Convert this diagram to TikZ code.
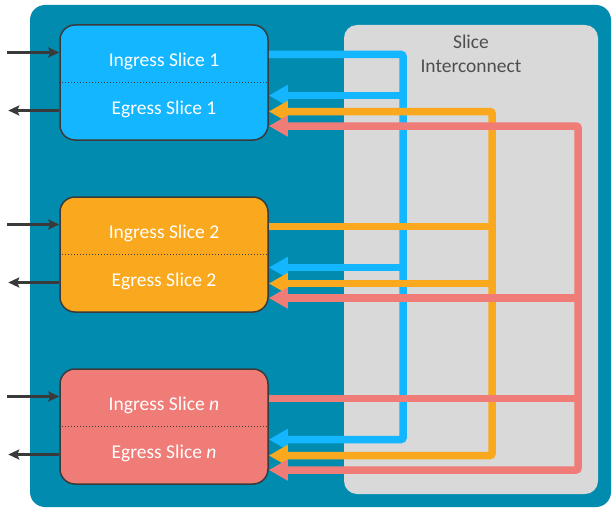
\documentclass[tikz,border=0pt]{standalone}
\usepackage{fontspec}
\setmainfont{Carlito}
\usetikzlibrary{arrows.meta,calc}
\definecolor{switchTeal}{HTML}{018BAF}
\definecolor{interGray}{HTML}{D9D9D9}
\definecolor{sliceBlue}{HTML}{14B6FF}
\definecolor{sliceOrange}{HTML}{FAA91E}
\definecolor{sliceSalmon}{HTML}{F07C78}
\definecolor{edgeDark}{HTML}{3A3A3A}

\begin{document}
\begin{tikzpicture}[
  x=1pt, y=-1pt,
  font=\fontsize{19.5}{24}\selectfont,
  slicebox/.style={draw=edgeDark, line width=1.5pt, rounded corners=15pt, minimum width=208pt, minimum height=115pt, inner sep=0pt},
  slicetext/.style={text=white, inner sep=0pt},
  bus/.style={line width=7.5pt, rounded corners=2pt},
  bustip/.style={-{Triangle[length=19pt,width=20pt]}},
  bustips/.style={{Triangle[length=19pt,width=20pt]}-{Triangle[length=19pt,width=20pt]}},
  portarrow/.style={-{Stealth[length=11pt,width=10pt,inset=2pt]}, line width=2.6pt, draw=edgeDark}
]
  \useasboundingbox (0,0) rectangle (612,508);

  % Switch body and interconnect area
  \fill[switchTeal, rounded corners=15pt] (30,5) rectangle (611,507);
  \fill[interGray, rounded corners=13pt] (344,25) rectangle (598,494);
  \node[text=edgeDark!90, align=center, inner sep=0pt] (xconn) at (471,54) {Slice\\Interconnect};

  % Slices
  \foreach \i/\c/\lbl/\cy in {1/sliceBlue/1/82.5, 2/sliceOrange/2/254.5, 3/sliceSalmon/{\itshape n}/426.5} {
    \node[slicebox, fill=\c] (box\i) at (164,\cy) {};
    \draw[edgeDark, line width=1.2pt, dash pattern=on 1.2pt off 1.8pt] (box\i.west) -- (box\i.east);
    \node[slicetext] (ing\i) at ($(box\i.center)+(0,-21)$) {Ingress Slice \lbl};
    \node[slicetext] (eg\i) at ($(box\i.center)+(0,27)$) {Egress Slice \lbl};
    % external ports
    \coordinate (rx\i) at ($(box\i.west)+(0,-30)$);
    \coordinate (src\i) at ($(rx\i)+(-52,0)$);
    \coordinate (tx\i) at ($(box\i.west)+(0,28)$);
    \coordinate (sink\i) at ($(tx\i)+(-51,0)$);
    \draw[portarrow] (src\i) -- (rx\i);
    \draw[portarrow] (tx\i) -- (sink\i);
    % interconnect ports
    \coordinate (out\i) at ($(box\i.east)+(0,-28)$);
    \coordinate (inB\i) at ($(box\i.east)+(0,13)$);
    \coordinate (inO\i) at ($(box\i.east)+(0,29)$);
    \coordinate (inS\i) at ($(box\i.east)+(0,43.5)$);
  }

  % Bus columns
  \coordinate (busBlue) at (403,0);
  \coordinate (busOrange) at (492,0);
  \coordinate (busSalmon) at (578,0);

  % Slice 1 fan-out
  \draw[bus, bustip, draw=sliceBlue] (out1) -| (busBlue |- inB3) -- (inB3);
  \draw[bus, bustip, draw=sliceBlue] (busBlue |- inB1) -- (inB1);
  \draw[bus, bustip, draw=sliceBlue] (busBlue |- inB2) -- (inB2);

  % Slice 2 fan-out
  \draw[bus, bustips, draw=sliceOrange] (inO1) -| (busOrange |- inO3) -- (inO3);
  \draw[bus, draw=sliceOrange] (out2) -- (busOrange |- out2);
  \draw[bus, bustip, draw=sliceOrange] (busOrange |- inO2) -- (inO2);

  % Slice n fan-out
  \draw[bus, bustips, draw=sliceSalmon] (inS1) -| (busSalmon |- inS3) -- (inS3);
  \draw[bus, draw=sliceSalmon] (out3) -- (busSalmon |- out3);
  \draw[bus, bustip, draw=sliceSalmon] (busSalmon |- inS2) -- (inS2);

\end{tikzpicture}
\end{document}
